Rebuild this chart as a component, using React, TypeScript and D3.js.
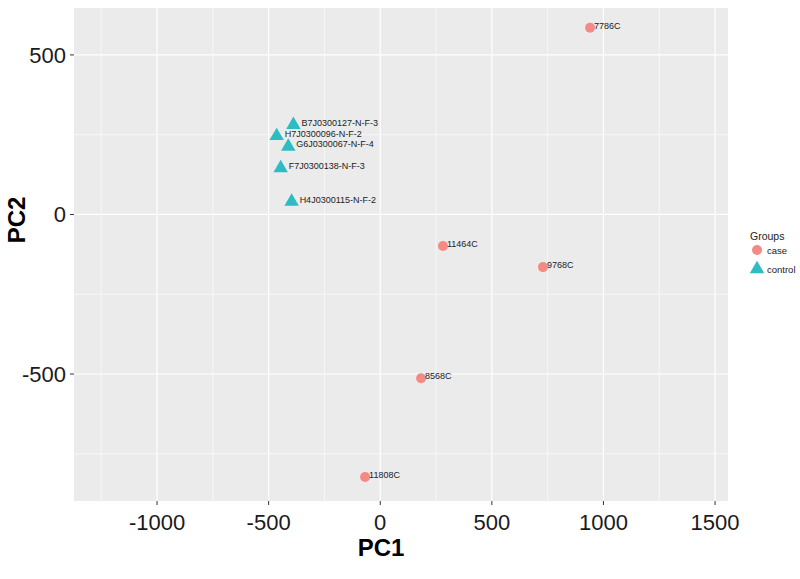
import React from "react";
import * as d3 from "d3";

const W = 800;
const H = 579;

const sampleNames = [
  "7786C",
  "B7J0300127-N-F-3",
  "H7J0300096-N-F-2",
  "G6J0300067-N-F-4",
  "F7J0300138-N-F-3",
  "H4J0300115-N-F-2",
  "11464C",
  "9768C",
  "8568C",
  "11808C",
];
const groups = ["case", "control", "control", "control", "control", "control", "case", "case", "case", "case"];
const pc1Values = [940, -389, -464, -412, -446, -397, 281, 729, 183, -68];
const pc2Values = [585, 281, 246, 213, 145, 40, -99, -165, -513, -823];

const xTicks = [-1000, -500, 0, 500, 1000, 1500];
const xMinor = [-1250, -750, -250, 250, 750, 1250];
const yTicks = [-500, 0, 500];
const yMinor = [-750, -250, 250];
const legendGroups = ["case", "control"];

const colors: Record<string, string> = { case: "#F48A83", control: "#2DBCC2" };

const FONT = "'Liberation Sans', Arial, Helvetica, sans-serif";

export default function App() {
  const panel = { left: 74, right: 728, top: 8, bottom: 501 };
  const x = d3.scaleLinear().domain([-1372, 1558]).range([panel.left, panel.right]);
  const y = d3.scaleLinear().domain([-898, 647]).range([panel.bottom, panel.top]);

  const circle = d3.symbol().type(d3.symbolCircle).size(78);
  const tri = d3.symbol().type(d3.symbolTriangle).size(90);

  const data = sampleNames.map((n, i) => ({ name: n, group: groups[i], pc1: pc1Values[i], pc2: pc2Values[i] }));

  return (
    <div style={{ position: "absolute", left: 0, top: 0 }}>
      <svg width={W} height={H} style={{ display: "block", background: "#fff" }}>
        <rect x={panel.left} y={panel.top} width={panel.right - panel.left} height={panel.bottom - panel.top} fill="#EBEBEB" />
        {xMinor.map((v) => (
          <line key={"xm" + v} x1={x(v)} x2={x(v)} y1={panel.top} y2={panel.bottom} stroke="#fff" strokeWidth={0.6} />
        ))}
        {yMinor.filter((v) => y(v) > panel.top && y(v) < panel.bottom).map((v) => (
          <line key={"ym" + v} x1={panel.left} x2={panel.right} y1={y(v)} y2={y(v)} stroke="#fff" strokeWidth={0.6} />
        ))}
        {xTicks.map((v) => (
          <line key={"xM" + v} x1={x(v)} x2={x(v)} y1={panel.top} y2={panel.bottom} stroke="#fff" strokeWidth={1.2} />
        ))}
        {yTicks.map((v) => (
          <line key={"yM" + v} x1={panel.left} x2={panel.right} y1={y(v)} y2={y(v)} stroke="#fff" strokeWidth={1.2} />
        ))}

        {xTicks.map((v) => (
          <g key={"xt" + v}>
            <line x1={x(v)} x2={x(v)} y1={panel.bottom} y2={panel.bottom + 4} stroke="#333" strokeWidth={1} />
            <text x={x(v)} y={530} textAnchor="middle" fontFamily={FONT} fontSize={22} fill="#1a1a1a">
              {v}
            </text>
          </g>
        ))}
        {yTicks.map((v) => (
          <g key={"yt" + v}>
            <line x1={panel.left - 4} x2={panel.left} y1={y(v)} y2={y(v)} stroke="#333" strokeWidth={1} />
            <text x={66} y={y(v) + 8} textAnchor="end" fontFamily={FONT} fontSize={22} fill="#1a1a1a">
              {v}
            </text>
          </g>
        ))}

        <text x={381} y={556} textAnchor="middle" fontFamily={FONT} fontSize={24} fontWeight="bold" fill="#000">
          PC1
        </text>
        <text
          transform={`translate(25,220) rotate(-90)`}
          textAnchor="middle"
          fontFamily={FONT}
          fontSize={24}
          fontWeight="bold"
          fill="#000"
        >
          PC2
        </text>

        {data.map((d) => (
          <path
            key={"p" + d.name}
            d={(d.group === "case" ? circle : tri)() as string}
            transform={`translate(${x(d.pc1)},${y(d.pc2)})`}
            fill={colors[d.group]}
          />
        ))}
        {data.map((d) => (
          <text
            key={"l" + d.name}
            x={x(d.pc1) + (d.group === "case" ? 4 : 8)}
            y={y(d.pc2) + 1}
            fontFamily={FONT}
            fontSize={9}
            fill="#222"
          >
            {d.name}
          </text>
        ))}

        <text x={750} y={240} fontFamily={FONT} fontSize={10.5} fill="#222">
          Groups
        </text>
        {legendGroups.map((g, i) => (
          <g key={"lg" + g}>
            <path
              d={(g === "case" ? circle : tri)() as string}
              transform={`translate(757,${250 + i * 19})`}
              fill={colors[g]}
            />
            <text x={767} y={250 + i * 19 + 3.5} fontFamily={FONT} fontSize={9.5} fill="#222">
              {g}
            </text>
          </g>
        ))}
      </svg>
    </div>
  );
}
